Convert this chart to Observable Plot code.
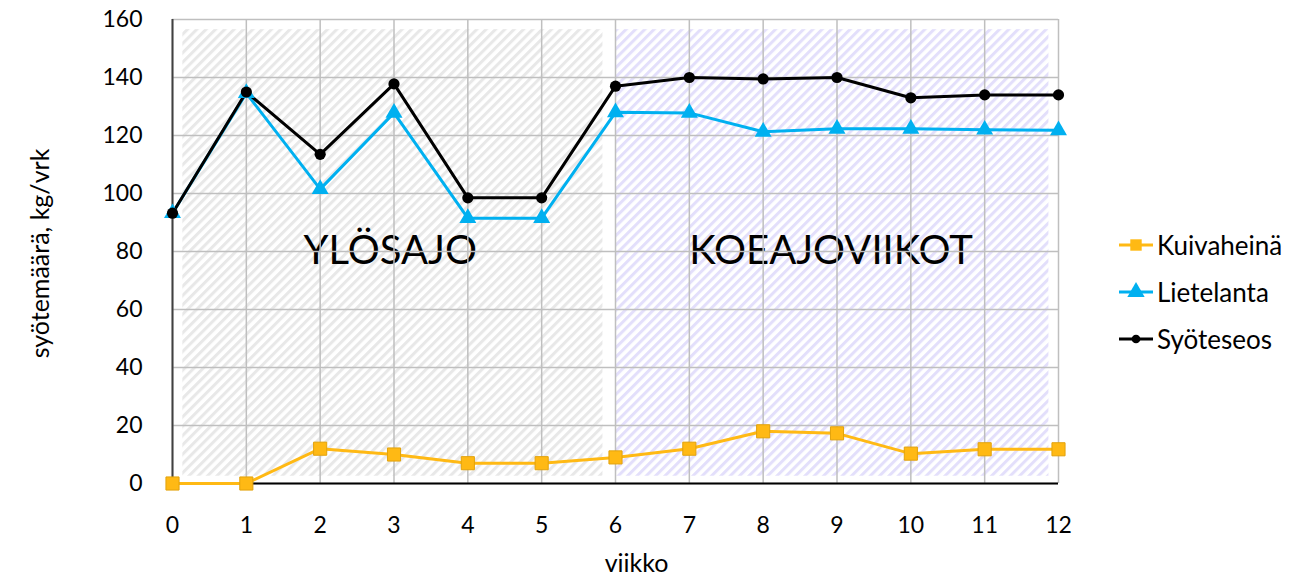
<!DOCTYPE html>
<html>
<head>
<meta charset="utf-8">
<script src="https://cdn.jsdelivr.net/npm/d3@7"></script>
<script src="https://cdn.jsdelivr.net/npm/@observablehq/plot@0.6"></script>
<style>
  html, body { margin: 0; padding: 0; background: #fff; }
  #wrap { position: relative; width: 1291px; height: 577px; font-family: Lato, "Open Sans", sans-serif; }
  #legend { position: absolute; left: 1118px; top: 221px; font-size: 26px; color: #000; }
  #legend .item { display: flex; align-items: center; height: 47px; }
  #legend svg { margin-right: 3px; }
</style>
</head>
<body>
<div id="wrap"><div id="legend"></div></div>
<script>
// Weekly feed amounts (kg/vrk)
const weeks = [0, 1, 2, 3, 4, 5, 6, 7, 8, 9, 10, 11, 12];
const kuivaheina = [0, 0, 12, 10, 7, 7, 9, 12, 18, 17.3, 10.3, 11.8, 11.8];
const lietelanta = [93.2, 134.6, 101.5, 127.8, 91.5, 91.5, 128, 127.8, 121.3, 122.3, 122.3, 122, 121.8];
const syoteseos = [93.2, 135, 113.5, 137.8, 98.5, 98.5, 137, 140, 139.5, 140, 133, 134, 134];

const seriesNames = ["Kuivaheinä", "Lietelanta", "Syöteseos"];
const seriesValues = [kuivaheina, lietelanta, syoteseos];
const seriesColors = ["#ffb914", "#00b0f0", "#000000"];
const seriesSymbols = ["square", "triangle", "circle"];

const yTicks = [0, 20, 40, 60, 80, 100, 120, 140, 160];

// Experiment phases: start-up weeks and trial weeks
const phaseNames = ["YLÖSAJO", "KOEAJOVIIKOT"];
const phaseStart = [0.14, 6.0];
const phaseEnd = [5.83, 11.87];
const phaseLabelWeek = [2.95, 8.92];
const phaseLabelValue = [80, 80];
const phaseFills = ["url(#hatch-gray)", "url(#hatch-purple)"];

const phases = phaseNames.map((name, i) => ({
  name, x1: phaseStart[i], x2: phaseEnd[i], lx: phaseLabelWeek[i], ly: phaseLabelValue[i], fill: phaseFills[i]
}));

const rows = seriesNames.flatMap((s, i) =>
  weeks.map((w, j) => ({series: s, week: w, value: seriesValues[i][j]}))
);

// Diagonal stripe patterns used for the phase backgrounds
function hatchDefs() {
  const defs = d3.create("svg:defs");
  const make = (id, color) => {
    const p = defs.append("pattern")
      .attr("id", id)
      .attr("patternUnits", "userSpaceOnUse")
      .attr("width", 6.6).attr("height", 6.6)
      .attr("patternTransform", "rotate(45)");
    p.append("rect").attr("width", 6.6).attr("height", 6.6).attr("fill", "#ffffff");
    p.append("rect").attr("width", 3).attr("height", 6.6).attr("fill", color);
  };
  make("hatch-gray", "#e8e8e8");
  make("hatch-purple", "#e3dffb");
  return defs.node();
}

const plot = Plot.plot({
  width: 1291,
  height: 577,
  marginLeft: 172,
  marginRight: 233,
  marginTop: 19,
  marginBottom: 94,
  style: {fontFamily: "Lato, 'Open Sans', sans-serif", background: "#fff"},
  x: {domain: [0, 12]},
  y: {domain: [0, 160]},
  marks: [
    hatchDefs,
    Plot.rectY(phases, {x1: "x1", x2: "x2", y1: 2.5, y2: 156.5, fill: "fill"}),
    Plot.text(phases, {x: "lx", y: "ly", text: "name", fontSize: 40, fill: "#000", textAnchor: "middle", lineAnchor: "middle"}),
    Plot.ruleY(yTicks, {stroke: "#bfbfbf", strokeWidth: 1.5}),
    Plot.ruleX(weeks, {stroke: "#bfbfbf", strokeWidth: 1.5}),
    Plot.ruleX([0], {stroke: "#404040", strokeWidth: 2}),
    Plot.ruleY([0], {stroke: "#000", strokeWidth: 2}),
    Plot.axisY({ticks: yTicks, tickSize: 0, tickPadding: 30, fontSize: 23, label: null, fill: "#000"}),
    Plot.axisX({ticks: weeks, tickFormat: d3.format("d"), tickSize: 0, tickPadding: 33, fontSize: 23, label: null, fill: "#000"}),
    Plot.text(["syötemäärä, kg/vrk"], {frameAnchor: "left", dx: -132, dy: 2, rotate: -90, fontSize: 25, fill: "#000", textAnchor: "middle", lineAnchor: "middle"}),
    Plot.text(["viikko"], {frameAnchor: "bottom", dx: 21, dy: 80, fontSize: 25, fill: "#000", textAnchor: "middle", lineAnchor: "middle"}),
    Plot.lineY(rows, {x: "week", y: "value", z: "series", stroke: d => seriesColors[seriesNames.indexOf(d.series)], strokeWidth: 3}),
    Plot.dot(rows.filter(d => d.series === "Kuivaheinä"), {x: "week", y: "value", symbol: "square", r: 7.4, fill: "#ffb914", stroke: "#e2a20c", strokeWidth: 1}),
    Plot.dot(rows.filter(d => d.series === "Lietelanta"), {x: "week", y: "value", symbol: "triangle", r: 6.3, fill: "#00b0f0", stroke: "none"}),
    Plot.dot(rows.filter(d => d.series === "Syöteseos"), {x: "week", y: "value", symbol: "circle", r: 5.6, fill: "#000", stroke: "none"})
  ]
});

const wrap = document.getElementById("wrap");
plot.style.position = "absolute";
plot.style.left = "0";
plot.style.top = "0";
wrap.insertBefore(plot, wrap.firstChild);

// Legend: line with marker, then series name
const legend = document.getElementById("legend");
seriesNames.forEach((name, i) => {
  const item = document.createElement("div");
  item.className = "item";
  const s = d3.create("svg").attr("width", 36).attr("height", 20);
  s.append("line").attr("x1", 1).attr("x2", 35).attr("y1", 10).attr("y2", 10)
    .attr("stroke", seriesColors[i]).attr("stroke-width", 3);
  const sym = d3.symbol().type({square: d3.symbolSquare, triangle: d3.symbolTriangle, circle: d3.symbolCircle}[seriesSymbols[i]])
    .size(seriesSymbols[i] === "circle" ? 60 : 130);
  s.append("path").attr("d", sym()).attr("transform", "translate(18,10)").attr("fill", seriesColors[i]);
  item.appendChild(s.node());
  const t = document.createElement("span");
  t.textContent = name;
  item.appendChild(t);
  legend.appendChild(item);
});
</script>
</body>
</html>
